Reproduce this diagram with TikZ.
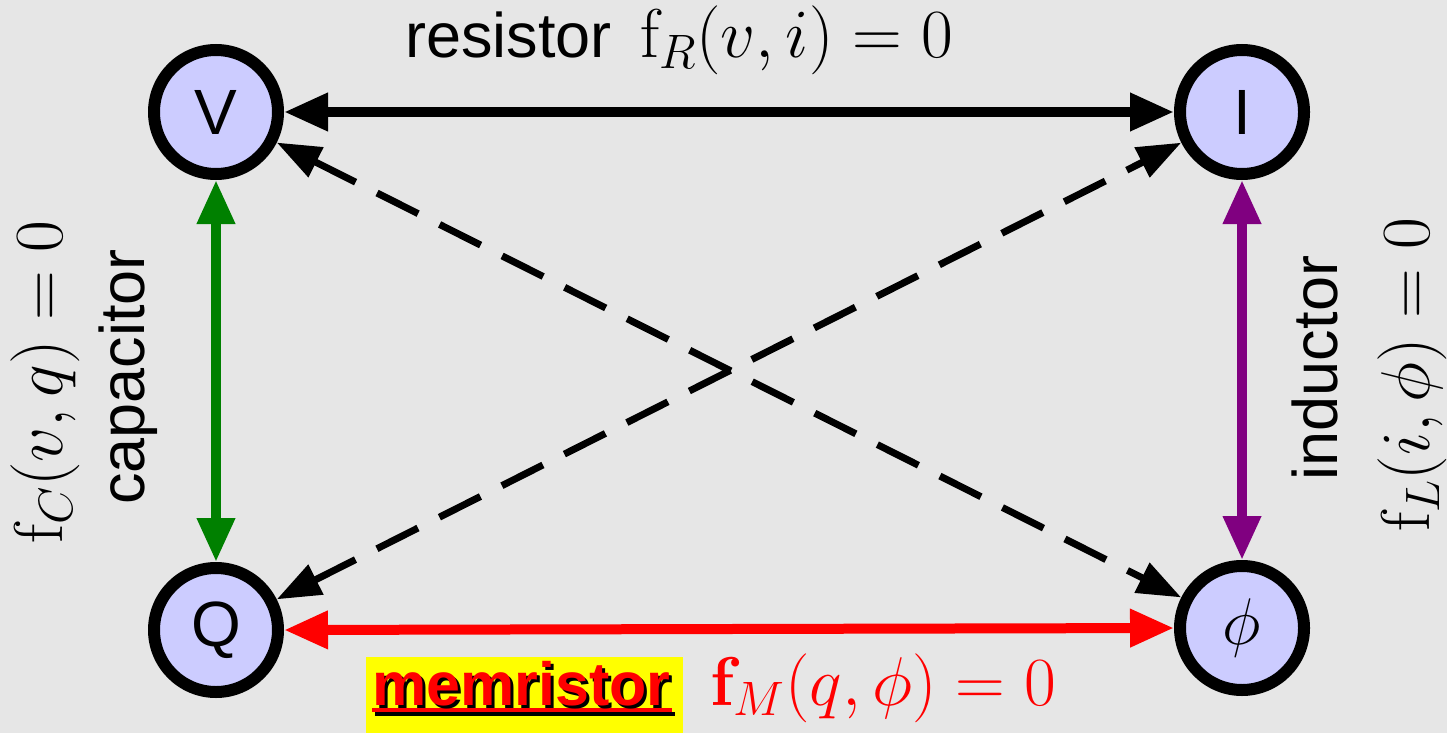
\RequirePackage{fix-cm}
\documentclass[tikz,border=0pt]{standalone}
\usepackage[no-math]{fontspec}
\newfontfamily\hv{Liberation Sans}
\usetikzlibrary{arrows.meta}
\definecolor{bg}{RGB}{230,230,230}
\definecolor{nodefill}{RGB}{204,204,255}
\definecolor{cgreen}{RGB}{0,128,0}
\definecolor{cpurple}{RGB}{128,0,128}
\definecolor{cred}{RGB}{255,0,0}
\definecolor{cyellow}{RGB}{255,255,0}
\begin{document}
\begin{tikzpicture}[x=1pt,y=-1pt,
  qty/.style={circle,draw=black,line width=12pt,fill=nodefill,minimum size=124pt,inner sep=0pt,font=\hv\fontsize{64}{76}\selectfont},
  rel/.style={line width=10pt,{Triangle[length=44pt,width=36pt]}-{Triangle[length=44pt,width=36pt]}},
  cross/.style={line width=7pt,dash pattern=on 46pt off 24pt,{Triangle[length=44pt,width=32pt]}-{Triangle[length=44pt,width=32pt]}},
  sans/.style={font=\hv\fontsize{63}{75}\selectfont,inner sep=0pt},
  mth/.style={font=\fontsize{69}{83}\selectfont,inner sep=0pt}]
\fill[bg] (0,0) rectangle (1447,733);
\useasboundingbox (0,0) rectangle (1447,733);

\node[qty] (V) at (216,112) {V};
\node[qty] (I) at (1242,112) {I};
\node[qty] (Q) at (216,630) {Q};
\node[qty,font=\fontsize{66}{79}\selectfont] (P) at (1242,628) {$\phi$};

\draw[rel] (V) -- (I);
\draw[rel,cgreen] (V) -- (Q);
\draw[rel,cpurple] (I) -- (P);
\draw[rel,cred] (Q.east) -- (P.west);
\draw[cross] (V) -- (P);
\draw[cross] (Q) -- (I);

\node[sans,anchor=base west] (rl) at (405,58) {resistor};
\node[mth,anchor=base west] (rm) at (640,58) {$\mathrm{f}_R(v,i)=0$};

\node[sans,rotate=90] (cl) at (128,377) {capacitor};
\node[mth,rotate=90] (cm) at (45,382) {$\mathrm{f}_C(v,q)=0$};

\node[sans,rotate=90] (il) at (1315,368) {inductor};
\node[mth,rotate=90] (im) at (1412,375) {$\mathrm{f}_L(i,\phi)=0$};

\node[fill=cyellow,minimum width=317pt,minimum height=76pt,inner sep=0pt,anchor=north west] (mbox) at (366,657) {};
\draw[line width=4pt,black] (375,714) -- (675,714);
\draw[line width=4pt,cred] (372,710) -- (672,710);
\node[sans,font=\hv\bfseries\fontsize{61}{73}\selectfont,text=cred,anchor=base west] (ml) at (372,705)
  {\rlap{\kern3pt\raisebox{-3pt}{\color{black}memristor}}memristor};
\node[mth,text=cred,anchor=base west] (mm) at (710,705) {$\mathbf{f}_M(q,\phi)=0$};
\end{tikzpicture}
\end{document}
